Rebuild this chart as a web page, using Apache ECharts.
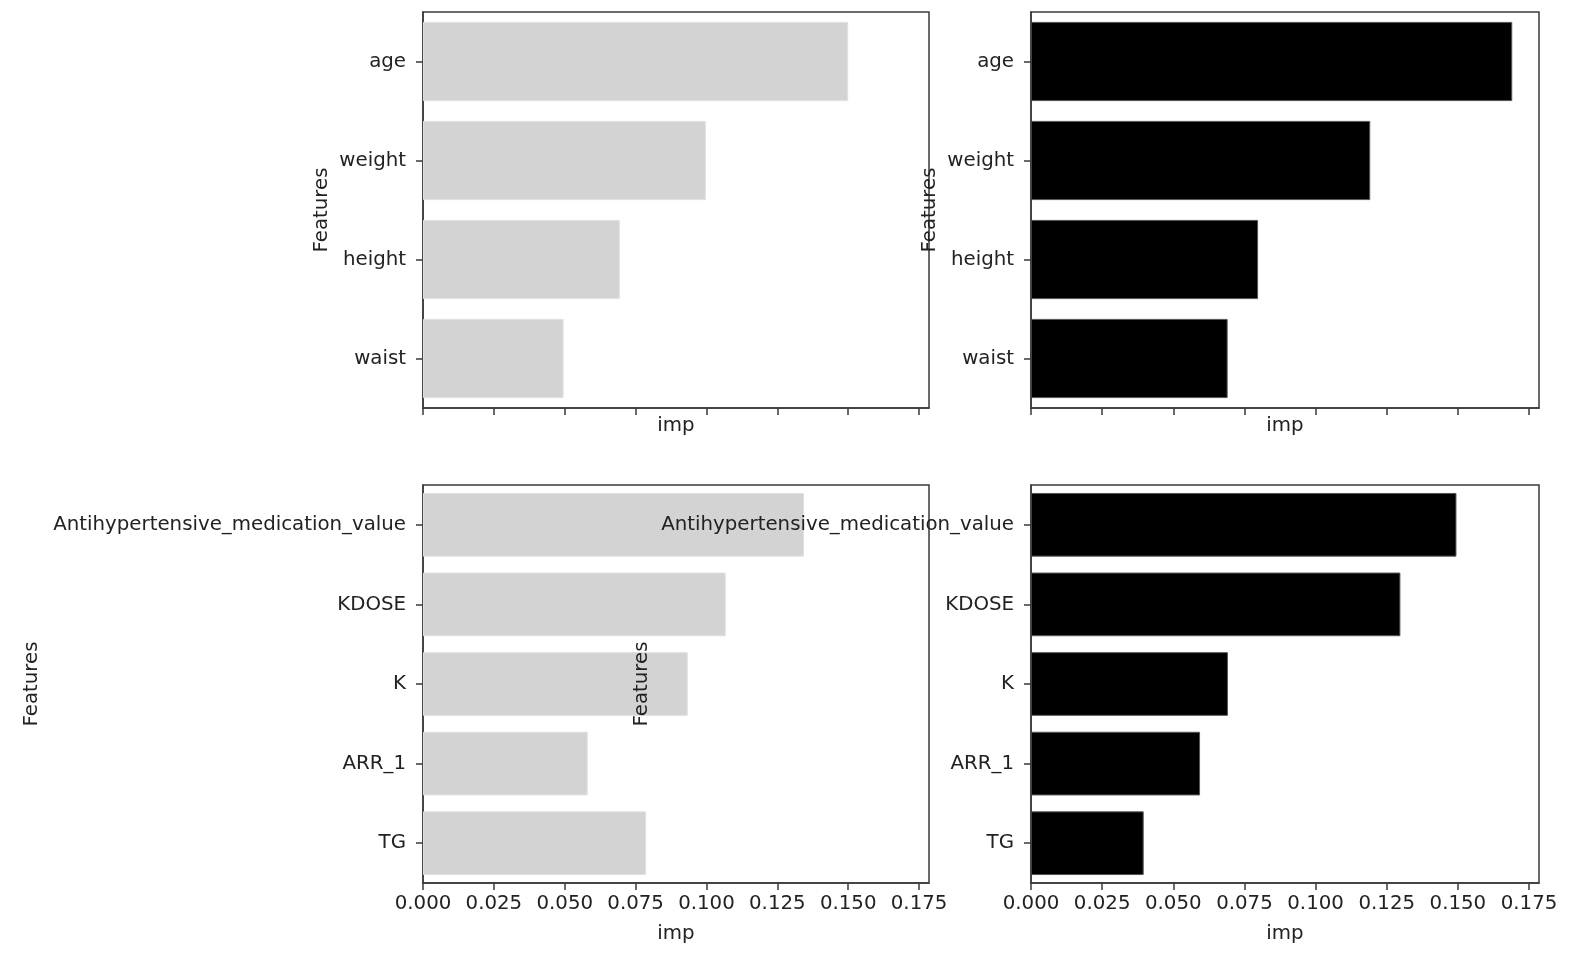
<!DOCTYPE html>
<html>
<head>
<meta charset="utf-8">
<script src="https://cdn.jsdelivr.net/npm/echarts@6/dist/echarts.min.js"></script>
<style>html,body{margin:0;padding:0;background:#fff;}#chart{width:1572px;height:968px;}</style>
</head>
<body>
<div id="chart"></div>
<script>
// ---- data ----
var topFeatures = ['age', 'weight', 'height', 'waist'];
var bottomFeatures = ['Antihypertensive_medication_value', 'KDOSE', 'K', 'ARR_1', 'TG'];
var topLeftImp = [0.150, 0.0998, 0.0694, 0.0496];
var topRightImp = [0.1691, 0.1192, 0.0798, 0.0691];
var bottomLeftImp = [0.1344, 0.1068, 0.0934, 0.0581, 0.0787];
var bottomRightImp = [0.1495, 0.1298, 0.0692, 0.0594, 0.0396];
var xTicks = [0, 0.025, 0.05, 0.075, 0.1, 0.125, 0.15, 0.175];
var xMax = 0.1785;

var FONT = 'DejaVu Sans';
var FS = 19.8;
var TXT = '#222222';

var grids = [
  {left: 423, top: 12, width: 506, height: 396},
  {left: 1031, top: 12, width: 508, height: 396},
  {left: 423, top: 485, width: 506, height: 398},
  {left: 1031, top: 485, width: 508, height: 398}
].map(function (g) {
  return Object.assign({show: true, borderColor: '#3a3a3a', borderWidth: 1.5, backgroundColor: 'transparent', containLabel: false}, g);
});

function xAxis(i, showLabels, nameGap) {
  return {
    type: 'value', gridIndex: i, min: 0, max: xMax, interval: 0.025,
    z: i % 2 === 1 ? 10 : 1,
    name: 'imp', nameLocation: 'middle', nameGap: nameGap,
    nameTextStyle: {fontFamily: FONT, fontSize: FS, color: TXT},
    axisLine: {show: true, onZero: false, lineStyle: {color: '#3a3a3a', width: 1.5}},
    axisTick: {show: true, length: 7, customValues: xTicks, lineStyle: {color: '#3a3a3a', width: 1.5}},
    axisLabel: {show: showLabels, customValues: xTicks, margin: 11, fontFamily: FONT, fontSize: FS, color: TXT,
      formatter: function (v) { return v.toFixed(3); }},
    splitLine: {show: false}
  };
}
function yAxis(i, cats, nameGap) {
  return {
    type: 'category', gridIndex: i, data: cats, inverse: true,
    z: i % 2 === 1 ? 10 : 1,
    name: 'Features', nameLocation: 'middle', nameGap: nameGap, nameRotate: 90,
    nameTextStyle: {fontFamily: FONT, fontSize: FS, color: TXT},
    axisLine: {show: true, lineStyle: {color: '#3a3a3a', width: 1.5}},
    axisTick: {show: true, length: 7, alignWithLabel: true, lineStyle: {color: '#3a3a3a', width: 1.5}},
    axisLabel: {margin: 17, fontFamily: FONT, fontSize: FS, color: TXT},
    splitLine: {show: false}
  };
}
function bar(i, data, color, border) {
  return {
    type: 'bar', xAxisIndex: i, yAxisIndex: i, data: data, barWidth: '80%',
    z: i % 2 === 1 ? 3 : 2,
    itemStyle: {color: color, borderColor: border, borderWidth: 1},
    silent: true, animation: false
  };
}

var chart = echarts.init(document.getElementById('chart'), null, {renderer: 'canvas'});
chart.setOption({
  backgroundColor: '#fff',
  animation: false,
  grid: grids,
  xAxis: [xAxis(0, false, 8), xAxis(1, false, 8), xAxis(2, true, 41), xAxis(3, true, 41)],
  yAxis: [yAxis(0, topFeatures, 91), yAxis(1, topFeatures, 91), yAxis(2, bottomFeatures, 381), yAxis(3, bottomFeatures, 379)],
  series: [
    bar(0, topLeftImp, '#d3d3d3', '#e0e0e0'),
    bar(1, topRightImp, '#000000', '#555555'),
    bar(2, bottomLeftImp, '#d3d3d3', '#e0e0e0'),
    bar(3, bottomRightImp, '#000000', '#555555')
  ]
});
</script>
</body>
</html>
